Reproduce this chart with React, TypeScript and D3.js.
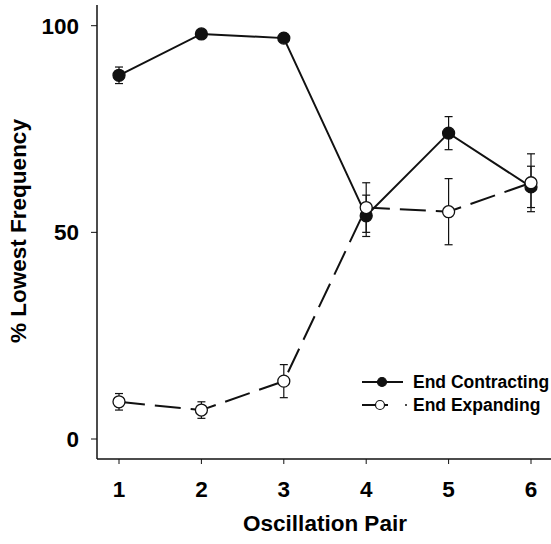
import React, { useRef, useEffect } from "react";
import * as d3 from "d3";

// oscillation pairs on the x axis
const pairs = [1, 2, 3, 4, 5, 6];

// % lowest frequency, mean and error (half-length of bar)
const contracting = [88, 98, 97, 54, 74, 61];
const contractingErr = [2, 0, 0, 5, 4, 5];
const expanding = [9, 7, 14, 56, 55, 62];
const expandingErr = [2, 2, 4, 6, 8, 7];

const yTicks = [0, 50, 100];
const legendLabels = ["End Contracting", "End Expanding"];

const W = 551;
const H = 544;
const FONT = "'Liberation Sans', Arial, sans-serif";

function App() {
  const svgRef = useRef<SVGSVGElement>(null);

  useEffect(() => {
    const svg = d3.select(svgRef.current);
    svg.selectAll("*").remove();

    const x = d3.scaleLinear().domain([1, 6]).range([119, 531]);
    const y = d3.scaleLinear().domain([0, 100]).range([439, 25.7]);
    const axisLeft = 97;
    const axisBottom = 459;

    // axis lines
    svg
      .append("line")
      .attr("x1", axisLeft)
      .attr("x2", axisLeft)
      .attr("y1", 5)
      .attr("y2", axisBottom)
      .attr("stroke", "#111")
      .attr("stroke-width", 1.5);
    svg
      .append("line")
      .attr("x1", axisLeft)
      .attr("x2", W)
      .attr("y1", axisBottom)
      .attr("y2", axisBottom)
      .attr("stroke", "#111")
      .attr("stroke-width", 1.5);

    // y ticks
    yTicks.forEach((t) => {
      svg
        .append("line")
        .attr("x1", axisLeft - 6)
        .attr("x2", axisLeft)
        .attr("y1", y(t))
        .attr("y2", y(t))
        .attr("stroke", "#111");
      svg
        .append("text")
        .attr("x", 79)
        .attr("y", y(t) + 8)
        .attr("text-anchor", "end")
        .attr("font-family", FONT)
        .attr("font-weight", "bold")
        .attr("font-size", 22.5)
        .text(t);
    });

    // x ticks
    pairs.forEach((p) => {
      svg
        .append("line")
        .attr("x1", x(p))
        .attr("x2", x(p))
        .attr("y1", axisBottom)
        .attr("y2", axisBottom + 5)
        .attr("stroke", "#111");
      svg
        .append("text")
        .attr("x", x(p))
        .attr("y", 497)
        .attr("text-anchor", "middle")
        .attr("font-family", FONT)
        .attr("font-weight", "bold")
        .attr("font-size", 22.5)
        .text(p);
    });

    // axis titles
    svg
      .append("text")
      .attr("x", 325)
      .attr("y", 531)
      .attr("text-anchor", "middle")
      .attr("font-family", FONT)
      .attr("font-weight", "bold")
      .attr("font-size", 22.5)
      .text("Oscillation Pair");
    svg
      .append("text")
      .attr("transform", "rotate(-90)")
      .attr("x", -231)
      .attr("y", 26)
      .attr("text-anchor", "middle")
      .attr("font-family", FONT)
      .attr("font-weight", "bold")
      .attr("font-size", 22.5)
      .text("% Lowest Frequency");

    const series = [
      { vals: contracting, err: contractingErr, fill: "#111", dash: null },
      { vals: expanding, err: expandingErr, fill: "#fff", dash: "26 10" },
    ];

    const line = d3
      .line<number>()
      .x((_, i) => x(pairs[i]))
      .y((d) => y(d));

    series.forEach((s) => {
      svg
        .append("path")
        .attr("d", line(s.vals))
        .attr("fill", "none")
        .attr("stroke", "#111")
        .attr("stroke-width", 2)
        .attr("stroke-dasharray", s.dash);

      // error bars
      s.vals.forEach((v, i) => {
        if (!s.err[i]) return;
        const cx = x(pairs[i]);
        const g = svg.append("g").attr("stroke", "#111").attr("stroke-width", 1.2);
        g.append("line")
          .attr("x1", cx)
          .attr("x2", cx)
          .attr("y1", y(v - s.err[i]))
          .attr("y2", y(v + s.err[i]));
        [v - s.err[i], v + s.err[i]].forEach((e) => {
          g.append("line")
            .attr("x1", cx - 4)
            .attr("x2", cx + 4)
            .attr("y1", y(e))
            .attr("y2", y(e));
        });
      });

      svg
        .selectAll(null)
        .data(s.vals)
        .enter()
        .append("circle")
        .attr("cx", (_, i) => x(pairs[i]))
        .attr("cy", (d) => y(d))
        .attr("r", 6)
        .attr("fill", s.fill)
        .attr("stroke", "#111")
        .attr("stroke-width", 1.3);
    });

    // legend
    const legendY = [382, 405];
    legendLabels.forEach((label, i) => {
      const ly = legendY[i];
      if (i === 0) {
        svg
          .append("line")
          .attr("x1", 362)
          .attr("x2", 403)
          .attr("y1", ly)
          .attr("y2", ly)
          .attr("stroke", "#111")
          .attr("stroke-width", 2);
      } else {
        svg
          .append("line")
          .attr("x1", 362)
          .attr("x2", 388)
          .attr("y1", ly)
          .attr("y2", ly)
          .attr("stroke", "#111")
          .attr("stroke-width", 2);
        svg
          .append("circle")
          .attr("cx", 406)
          .attr("cy", ly)
          .attr("r", 1)
          .attr("fill", "#111");
      }
      svg
        .append("circle")
        .attr("cx", i === 0 ? 382 : 380)
        .attr("cy", ly)
        .attr("r", 4.5)
        .attr("fill", i === 0 ? "#111" : "#fff")
        .attr("stroke", "#111")
        .attr("stroke-width", 1.2);
      svg
        .append("text")
        .attr("x", 413)
        .attr("y", ly + 6)
        .attr("font-family", FONT)
        .attr("font-weight", "bold")
        .attr("font-size", 17.5)
        .text(label);
    });
  }, []);

  return (
    <svg
      ref={svgRef}
      width={W}
      height={H}
      style={{ position: "absolute", left: 0, top: 0, background: "#fff" }}
    />
  );
}

export default App;
